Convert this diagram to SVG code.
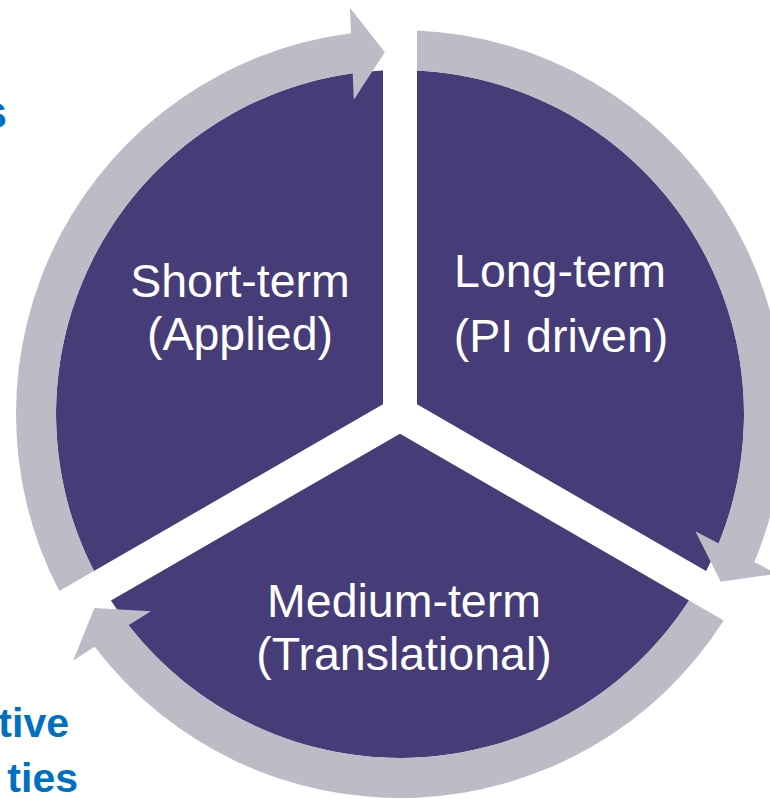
<svg xmlns="http://www.w3.org/2000/svg" xmlns:xlink="http://www.w3.org/1999/xlink" width="770" height="799" viewBox="0 0 770 799">
<style>
.wedge{fill:#463c78}
.ring{fill:#bdbbc5}
.lbl{font-family:"Liberation Sans",Arial,sans-serif;font-size:46.5px;fill:#ffffff;text-anchor:middle}
.side{font-family:"Liberation Sans",Arial,sans-serif;font-weight:bold;fill:#0070c0;text-anchor:end}
</style>
<defs>
<path id="wedgeShape" d="M17,-9.815 L17,-343.58 A344,344 0 0 1 306.04,157.07 Z"/>
<path id="arrowShape" d="M17,-383.62 A384,384 0 0 1 354.33,148 L376.86,159.78 L320.8,167.71 L295.33,117.16 L318.73,129.4 A344,344 0 0 0 17,-343.58 Z"/>
</defs>
<rect width="770" height="799" fill="#ffffff"/>
<text class="side" x="7" y="128" font-size="46">s</text>
<text class="side" x="69" y="737" font-size="41">tive</text>
<text class="side" x="78" y="792" font-size="41">ties</text>
<g id="long-term">
<use xlink:href="#wedgeShape" href="#wedgeShape" class="wedge" transform="translate(400,414)"/>
<text class="lbl" x="560" y="287">Long-term</text>
<text class="lbl" x="561" y="352">(PI driven)</text>
</g>
<g id="medium-term">
<use xlink:href="#wedgeShape" href="#wedgeShape" class="wedge" transform="translate(400,414) rotate(120)"/>
<text class="lbl" x="404" y="617">Medium-term</text>
<text class="lbl" x="404" y="670">(Translational)</text>
</g>
<g id="short-term">
<use xlink:href="#wedgeShape" href="#wedgeShape" class="wedge" transform="translate(400,414) rotate(240)"/>
<text class="lbl" x="240" y="297">Short-term</text>
<text class="lbl" x="240" y="350">(Applied)</text>
</g>
<g id="connectors">
<use xlink:href="#arrowShape" href="#arrowShape" class="ring" transform="translate(400,414)"/>
<use xlink:href="#arrowShape" href="#arrowShape" class="ring" transform="translate(400,414) rotate(120)"/>
<use xlink:href="#arrowShape" href="#arrowShape" class="ring" transform="translate(400,414) rotate(240)"/>
</g>
</svg>
